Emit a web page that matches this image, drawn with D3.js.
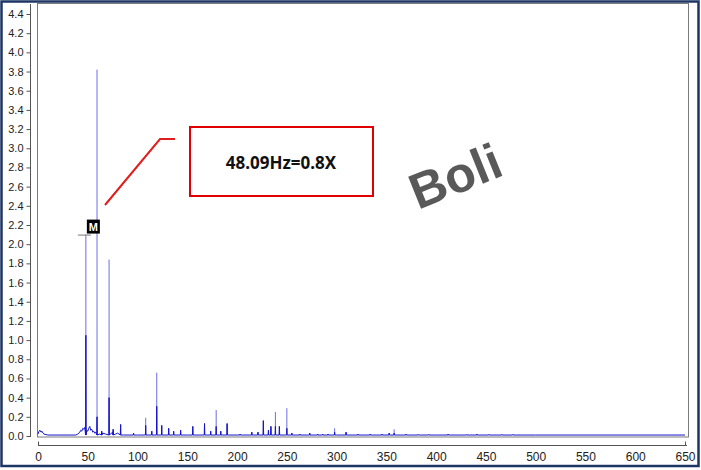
<!DOCTYPE html>
<html>
<head>
<meta charset="utf-8">
<script src="https://cdn.jsdelivr.net/npm/d3@7"></script>
<style>
  body { margin: 0; background: #fff; }
  svg { display: block; }
  .tick text { font-family: "Liberation Sans", Arial, sans-serif; font-size: 11px; fill: #222; }
</style>
</head>
<body>
<div id="canvas"></div>
<script>
// y ticks and x ticks
const yTicks = [0, 0.2, 0.4, 0.6, 0.8, 1.0, 1.2, 1.4, 1.6, 1.8, 2.0, 2.2, 2.4, 2.6, 2.8, 3.0, 3.2, 3.4, 3.6, 3.8, 4.0, 4.2, 4.4];
const xTicks = [0, 50, 100, 150, 200, 250, 300, 350, 400, 450, 500, 550, 600, 650];

// noise floor of the spectrum (Hz, amplitude)
const floorFreqs = [0, 1, 2, 3, 4, 5, 6, 8, 10, 20, 38, 40, 42, 43, 44, 45, 46, 47, 49, 50, 51, 52, 53, 54, 55, 56, 57, 58, 62, 65, 68, 75, 78, 80, 86, 100, 150, 200, 300, 400, 500, 650];
const floorAmps  = [0.02, 0.05, 0.06, 0.04, 0.05, 0.03, 0.02, 0.015, 0.01, 0.01, 0.01, 0.02, 0.04, 0.06, 0.05, 0.08, 0.07, 0.09, 0.06, 0.05, 0.08, 0.1, 0.06, 0.07, 0.04, 0.05, 0.03, 0.04, 0.02, 0.03, 0.02, 0.04, 0.02, 0.03, 0.01, 0.01, 0.01, 0.01, 0.01, 0.01, 0.01, 0.01];

// discrete peaks: frequency, full height, height of the dark part
const peakFreqs = [48.09, 59.3, 71.4, 64, 75.5, 83, 96, 108.2, 114.3, 119.3, 124.3, 131.3, 136.3, 143.3, 155.5, 167.3, 173.5, 179, 183.6, 190, 203, 214.8, 221, 226.4, 231.5, 234, 238.5, 242.5, 250, 255, 263, 273, 281, 286, 291.5, 298, 309.5, 321.6, 333.7, 345.7, 352.8, 357.8, 369.8, 382, 392.6, 412, 430.8, 441, 453, 466, 477];
const peakAmps  = [2.10, 3.82, 1.84, 0.05, 0.07, 0.12, 0.03, 0.19, 0.05, 0.66, 0.11, 0.08, 0.05, 0.06, 0.10, 0.13, 0.05, 0.27, 0.05, 0.13, 0.02, 0.04, 0.04, 0.16, 0.06, 0.10, 0.25, 0.10, 0.29, 0.03, 0.02, 0.03, 0.02, 0.02, 0.02, 0.08, 0.04, 0.02, 0.02, 0.02, 0.03, 0.07, 0.02, 0.015, 0.015, 0.02, 0.015, 0.02, 0.015, 0.015, 0.015];
const peakDark  = [1.05, 0.20, 0.40, 0.05, 0.07, 0.12, 0.03, 0.11, 0.05, 0.31, 0.11, 0.08, 0.05, 0.06, 0.10, 0.13, 0.05, 0.10, 0.05, 0.13, 0.02, 0.04, 0.04, 0.16, 0.06, 0.10, 0.10, 0.10, 0.08, 0.03, 0.02, 0.03, 0.02, 0.02, 0.02, 0.04, 0.04, 0.02, 0.02, 0.02, 0.03, 0.03, 0.02, 0.015, 0.015, 0.02, 0.015, 0.02, 0.015, 0.015, 0.015];

const markerFreq = 48.09;
const markerAmp = 2.10;
const noteText = "48.09Hz=0.8X";
const stampText = "Boli";

const w = 701, h = 470;

const svg = d3.select("#canvas").append("svg")
  .attr("width", w).attr("height", h);

const x = d3.scaleLinear().domain([0, 650]).range([38, 685]);
const y = d3.scaleLinear().domain([0, 4.4]).range([436, 14]);

// plot frame
svg.append("rect")
  .attr("x", 37.5).attr("y", 3.5)
  .attr("width", 651).attr("height", 433.5)
  .attr("fill", "none").attr("stroke", "#7a7a7a").attr("stroke-width", 1);

// y axis
const yAxis = d3.axisLeft(y).tickValues(yTicks).tickSize(4).tickPadding(3)
  .tickFormat(d3.format(".1f"));
const gy = svg.append("g").attr("transform", "translate(30.5,0)").call(yAxis);
gy.select(".domain").attr("d", "M0,4V437").attr("stroke", "#555");
gy.selectAll(".tick line").attr("stroke", "#555");

// x axis (separate, below the plot)
const xAxis = d3.axisBottom(x).tickValues(xTicks).tickSize(0).tickPadding(7);
const gx = svg.append("g").attr("transform", "translate(0,445.5)").call(xAxis);
gx.select(".domain").attr("d", "M38,0H687").attr("stroke", "#555");
gx.selectAll(".tick")
  .filter(d => d === 0 || d === 650)
  .select("line").attr("y2", -4).attr("stroke", "#555");
gx.selectAll(".tick text").style("font-size", "12px");

// light full-height peak lines
svg.append("g").selectAll("line")
  .data(peakFreqs)
  .join("line")
  .attr("x1", d => x(d)).attr("x2", d => x(d))
  .attr("y1", y(0.01))
  .attr("y2", (d, i) => y(peakAmps[i]))
  .attr("stroke", "#6c6ce8").attr("stroke-width", 1);

// dark spectrum trace: noise floor + dark part of peaks
const pts = floorFreqs.map((f, i) => [f, floorAmps[i]]);
peakFreqs.forEach((f, i) => {
  pts.push([f - 0.3, 0.01], [f, peakDark[i]], [f + 0.3, 0.01]);
});
pts.sort((a, b) => a[0] - b[0]);

svg.append("path")
  .datum(pts)
  .attr("fill", "none")
  .attr("stroke", "#1414c8")
  .attr("stroke-width", 1)
  .attr("d", d3.line().x(d => x(d[0])).y(d => y(d[1])));

// marker M
const mx = x(markerFreq), my = y(markerAmp);
svg.append("line")
  .attr("x1", mx - 8).attr("x2", mx + 5)
  .attr("y1", my + 0.5).attr("y2", my + 0.5)
  .attr("stroke", "#777").attr("stroke-width", 1);
svg.append("rect")
  .attr("x", mx + 1).attr("y", my - 15)
  .attr("width", 13).attr("height", 14)
  .attr("fill", "#000");
svg.append("text")
  .attr("x", mx + 7.5).attr("y", my - 3.5)
  .attr("text-anchor", "middle")
  .style("font-family", "Liberation Sans, Arial, sans-serif")
  .style("font-size", "11px")
  .style("font-weight", "bold")
  .style("fill", "#fff")
  .text("M");

// red callout
svg.append("path")
  .attr("d", "M105,205L160,139H175")
  .attr("fill", "none").attr("stroke", "#e01e1e").attr("stroke-width", 2);
svg.append("rect")
  .attr("x", 190).attr("y", 127)
  .attr("width", 183).attr("height", 69)
  .attr("fill", "#fff").attr("stroke", "#e00000").attr("stroke-width", 2);
svg.append("text")
  .attr("x", 281).attr("y", 169)
  .attr("text-anchor", "middle")
  .style("font-family", "Noto Sans, Open Sans, sans-serif")
  .style("font-size", "17px")
  .style("font-weight", "bold")
  .style("fill", "#111")
  .text(noteText);

// stamp text
svg.append("text")
  .attr("transform", "translate(418,210) rotate(-22)")
  .style("font-family", "Liberation Sans, Arial, sans-serif")
  .style("font-size", "50px")
  .style("font-weight", "bold")
  .style("fill", "#595959")
  .text(stampText);

// outer frame
svg.append("rect")
  .attr("x", 1.5).attr("y", 1.5)
  .attr("width", 697).attr("height", 464.5)
  .attr("fill", "none").attr("stroke", "#1c3664").attr("stroke-width", 2.5);
</script>
</body>
</html>
